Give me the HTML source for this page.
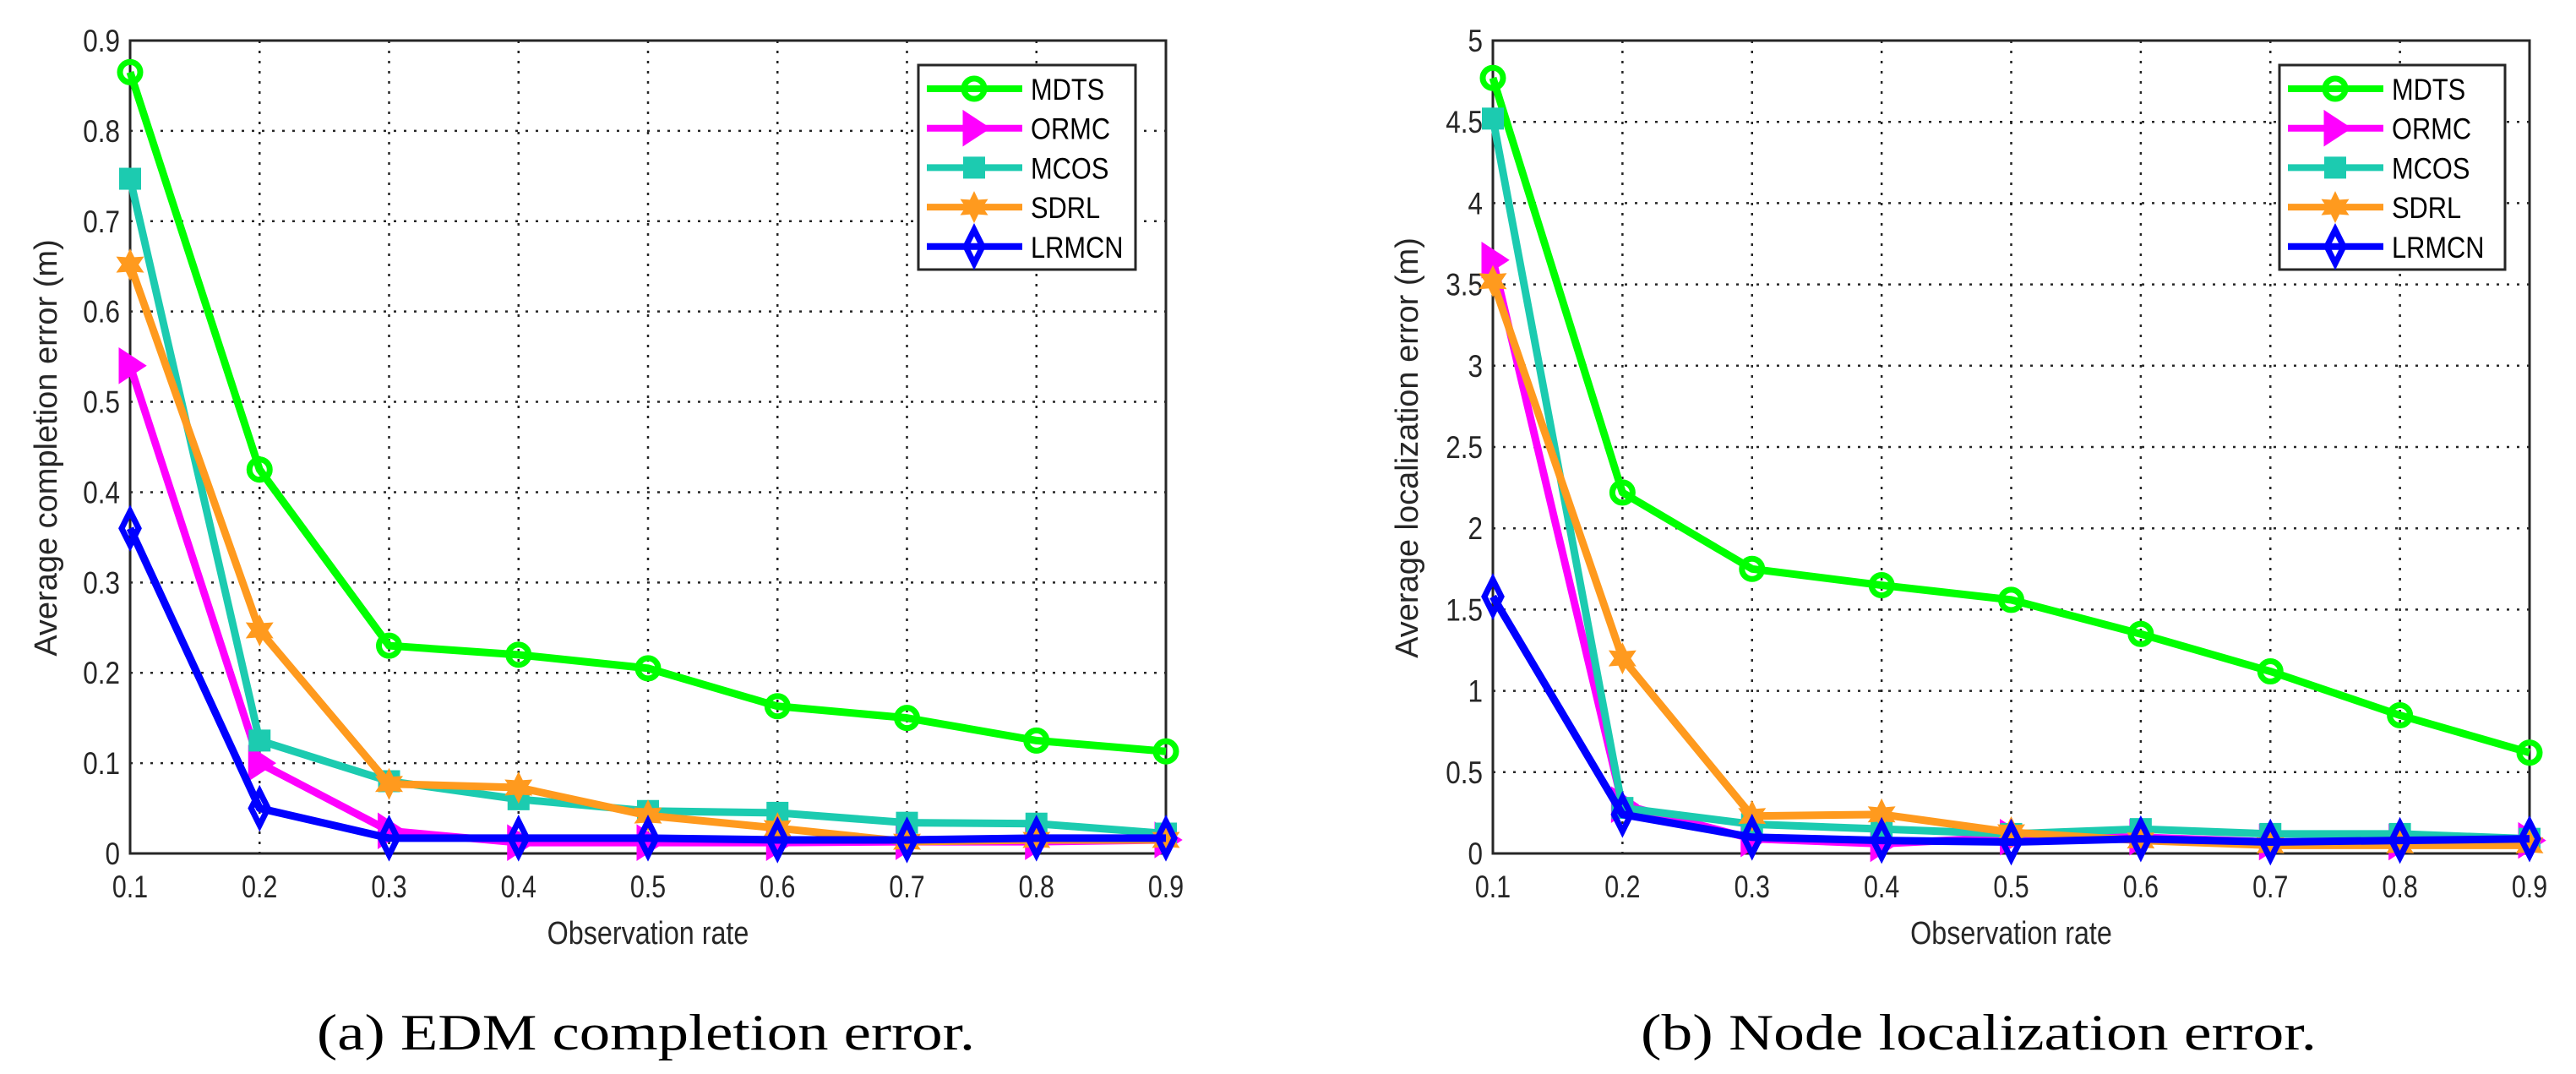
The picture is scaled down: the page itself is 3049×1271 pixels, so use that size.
<!DOCTYPE html>
<html><head><meta charset="utf-8"><style>
html,body{margin:0;padding:0;background:#fff;}
svg{display:block;}
text{font-family:"Liberation Sans",sans-serif;fill:#262626;}
.cap{font-family:"Liberation Serif",serif;fill:#000;}
</style></head><body>
<svg id="fig" width="3049" height="1271" viewBox="0 0 3049 1271" xmlns="http://www.w3.org/2000/svg"></svg>
<script>
const categories = [0.1,0.2,0.3,0.4,0.5,0.6,0.7,0.8,0.9];
const seriesNames = ["MDTS","ORMC","MCOS","SDRL","LRMCN"];
const seriesColors = ["#00ff00","#ff00ff","#1ccbb0","#ff9a1e","#0000ff"];
const seriesMarkers = ["circle","triangle","square","star","diamond"];
const edmMDTS  = [0.865,0.425,0.230,0.220,0.205,0.163,0.150,0.125,0.113];
const edmORMC  = [0.540,0.100,0.025,0.012,0.012,0.012,0.013,0.013,0.015];
const edmMCOS  = [0.747,0.125,0.080,0.060,0.047,0.045,0.034,0.033,0.022];
const edmSDRL  = [0.652,0.247,0.077,0.073,0.042,0.028,0.013,0.015,0.015];
const edmLRMCN = [0.360,0.050,0.017,0.017,0.017,0.015,0.015,0.017,0.017];
const locMDTS  = [4.77,2.22,1.75,1.65,1.56,1.35,1.12,0.85,0.62];
const locORMC  = [3.65,0.30,0.09,0.06,0.10,0.10,0.07,0.07,0.08];
const locMCOS  = [4.52,0.28,0.18,0.15,0.12,0.15,0.12,0.12,0.09];
const locSDRL  = [3.52,1.20,0.23,0.24,0.13,0.08,0.05,0.05,0.05];
const locLRMCN = [1.58,0.24,0.10,0.08,0.07,0.09,0.07,0.08,0.09];
const xTickLabels = ["0.1","0.2","0.3","0.4","0.5","0.6","0.7","0.8","0.9"];
const edmYTicks = [0,0.1,0.2,0.3,0.4,0.5,0.6,0.7,0.8,0.9];
const edmYTickLabels = ["0","0.1","0.2","0.3","0.4","0.5","0.6","0.7","0.8","0.9"];
const locYTicks = [0,0.5,1,1.5,2,2.5,3,3.5,4,4.5,5];
const locYTickLabels = ["0","0.5","1","1.5","2","2.5","3","3.5","4","4.5","5"];

const NS="http://www.w3.org/2000/svg";
const svg=document.getElementById('fig');
function mk(tag,attrs,parent){const e=document.createElementNS(NS,tag);for(const k in attrs)e.setAttribute(k,attrs[k]);(parent||svg).appendChild(e);return e;}

function marker(g,type,x,y,color){
  let e;
  if(type==="circle"){e=mk('circle',{cx:x,cy:y,r:12,fill:'none',stroke:color,'stroke-width':7},g);}
  else if(type==="triangle"){e=mk('polygon',{points:`${x-12},${y-19} ${x+17},${y} ${x-12},${y+19}`,fill:color,stroke:color,'stroke-width':3},g);}
  else if(type==="square"){e=mk('rect',{x:x-13,y:y-13,width:26,height:26,fill:color},g);}
  else if(type==="star"){const p=[];for(let i=0;i<12;i++){const a=Math.PI/6*i-Math.PI/2;const r=i%2?10:19;p.push((x+r*Math.cos(a)).toFixed(1)+','+(y+r*Math.sin(a)).toFixed(1));}e=mk('polygon',{points:p.join(' '),fill:color},g);}
  else {e=mk('polygon',{points:`${x},${y-20} ${x+10},${y} ${x},${y+20} ${x-10},${y}`,fill:'none',stroke:color,'stroke-width':7},g);}
  return e;
}

function chart(cfg){
  const {L,R,T,B,ymax,yt,ytl,data,ylabel,ylx,caption,capX,capW,legL,legR,prefix}=cfg;
  const g=mk('g',{});
  
  
  const xs=v=>L+(v-0.1)/0.8*(R-L);
  const ys=v=>B-v/ymax*(B-T);
  categories.forEach((c,i)=>{
    if(i>0&&i<categories.length-1){const l=mk('line',{x1:xs(c),x2:xs(c),y1:T,y2:B,stroke:'#262626','stroke-width':2.5,'stroke-dasharray':'3 9'},g);
      
      }
    const t=mk('text',{x:xs(c),y:1062,'font-size':37,'text-anchor':'middle',transform:`translate(${xs(c)},0) scale(0.82,1) translate(${-xs(c)},0)`},g);
    t.textContent=xTickLabels[i];
    
    
  });
  yt.forEach((v,i)=>{
    if(i>0&&i<yt.length-1){const l=mk('line',{x1:L,x2:R,y1:ys(v),y2:ys(v),stroke:'#262626','stroke-width':2.5,'stroke-dasharray':'3 9'},g);
      
      }
    const tx=L-12;
    const t=mk('text',{x:tx,y:ys(v)+13,'font-size':37,'text-anchor':'end',transform:`translate(${tx},0) scale(0.85,1) translate(${-tx},0)`},g);
    t.textContent=ytl[i];
    
    
  });
  const box=mk('rect',{x:L,y:T,width:R-L,height:B-T,fill:'none',stroke:'#262626','stroke-width':3},g);
  
  
  data.forEach((arr,si)=>{
    const sg=mk('g',{},g);
    
    
    const pts=arr.map((v,i)=>xs(categories[i])+','+ys(v)).join(' ');
    mk('polyline',{points:pts,fill:'none',stroke:seriesColors[si],'stroke-width':9,'stroke-linejoin':'round'},sg);
    arr.forEach((v,i)=>{const m=marker(sg,seriesMarkers[si],xs(categories[i]),ys(v),seriesColors[si]);
      
      });
  });
  const lg=mk('g',{},g);
  
  
  mk('rect',{x:legL,y:77,width:legR-legL,height:242,fill:'#fff',stroke:'#262626','stroke-width':3},lg);
  seriesNames.forEach((n,i)=>{
    const y=105+i*46.7;
    const e=mk('g',{},lg);
    
    
    mk('line',{x1:legL+10,x2:legL+123,y1:y,y2:y,stroke:seriesColors[i],'stroke-width':8},e);
    marker(e,seriesMarkers[i],legL+66,y,seriesColors[i]);
    const t=mk('text',{x:legL+133,y:y+13,'font-size':35,fill:'#000',transform:`translate(${legL+133},0) scale(0.88,1) translate(${-(legL+133)},0)`},e);
    t.style.fill='#000';
    t.textContent=n;
  });
  const xl=mk('text',{x:(L+R)/2,y:1117,'font-size':38,'text-anchor':'middle',transform:`translate(${(L+R)/2},0) scale(0.85,1) translate(${-(L+R)/2},0)`},g);
  xl.textContent='Observation rate';
  
  
  const yl=mk('text',{x:0,y:0,'font-size':38,'text-anchor':'middle',transform:`translate(${ylx+13},530) rotate(-90)`},g);
  yl.textContent=ylabel;
  
  
  const cp=mk('text',{x:capX,y:1242,'font-size':60,textLength:capW,lengthAdjust:'spacingAndGlyphs','class':'cap'},svg);
  cp.textContent=caption;
  
  
}

chart({L:154,R:1380,T:48,B:1010,ymax:0.9,yt:edmYTicks,ytl:edmYTickLabels,
  data:[edmMDTS,edmORMC,edmMCOS,edmSDRL,edmLRMCN],
  ylabel:'Average completion error (m)',ylx:54,caption:'(a)  EDM completion error.',capX:375,capW:779,
  legL:1087,legR:1344,prefix:'edm'});
chart({L:1767,R:2994,T:48,B:1010,ymax:5,yt:locYTicks,ytl:locYTickLabels,
  data:[locMDTS,locORMC,locMCOS,locSDRL,locLRMCN],
  ylabel:'Average localization error (m)',ylx:1665,caption:'(b)  Node localization error.',capX:1942,capW:800,
  legL:2698,legR:2965,prefix:'loc'});
</script>
</body></html>
